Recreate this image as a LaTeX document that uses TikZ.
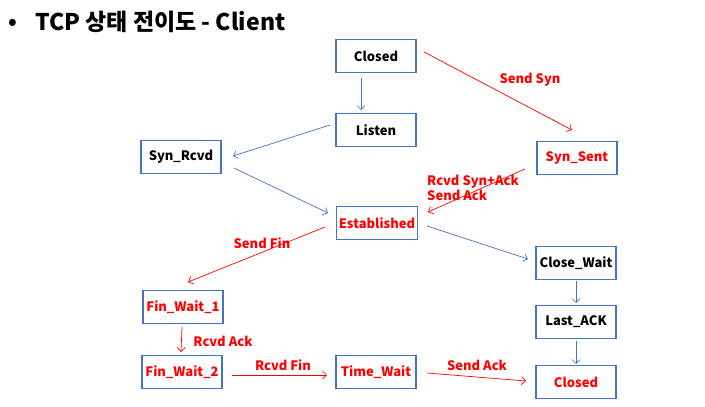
\documentclass[tikz,border=0pt]{standalone}
\usepackage{fontspec}
\setmainfont{Noto Sans CJK KR}
\usetikzlibrary{arrows.meta}
\definecolor{boxblue}{HTML}{4472C4}

\begin{document}
\begin{tikzpicture}[x=1pt,y=-1pt]
\tikzstyle{every node}=[font=\bfseries\fontsize{13}{15}\selectfont]
\tikzstyle{state}=[draw=boxblue,line width=1.4pt,minimum width=80pt,minimum height=33pt,inner sep=2pt]
\tikzstyle{redstate}=[state,text=red]
\tikzstyle{blueline}=[draw=boxblue,line width=0.7pt,-{Straight Barb[length=4pt,width=8pt]}]
\tikzstyle{redline}=[draw=red,line width=0.7pt,-{Straight Barb[length=4pt,width=8pt]}]
\tikzstyle{lbl}=[text=red,inner sep=1pt]
\useasboundingbox (0,0) rectangle (705,407);

% title
\node (bullet) at (13,24) {\fontsize{22}{24}\selectfont •};
\node[anchor=west,inner sep=0pt] (title) at (35,22) {\fontsize{23}{26}\selectfont TCP 상태 전이도 - Client};

% states
\node[state] (closed) at (376,56) {Closed};
\node[state] (listen) at (376,130) {Listen};
\node[state] (synrcvd) at (181,157) {Syn\_Rcvd};
\node[redstate] (synsent) at (577,158) {Syn\_Sent};
\node[redstate] (established) at (377,223) {Established};
\node[state] (closewait) at (576,263) {Close\_Wait};
\node[state] (lastack) at (576,322) {Last\_ACK};
\node[redstate] (closed2) at (576,382) {Closed};
\node[redstate] (finwait1) at (183,307) {Fin\_Wait\_1};
\node[redstate] (finwait2) at (182,372) {Fin\_Wait\_2};
\node[redstate] (timewait) at (376,372) {Time\_Wait};

% transitions
\draw[blueline] ([shift={(-15,22)}]closed.center) -- ([shift={(-15,-20)}]listen.center);
\draw[redline] ([shift={(48,-4)}]closed.center) -- ([shift={(-5,-28)}]synsent.center);
\draw[blueline] ([shift={(-46,-5)}]listen.center) -- ([shift={(52,-1)}]synrcvd.center);
\draw[blueline] ([shift={(53,11)}]synrcvd.center) -- ([shift={(-49,-10)}]established.center);
\draw[redline] ([shift={(-52,11)}]synsent.center) -- ([shift={(51,-11)}]established.center);
\draw[redline] ([shift={(-52,4)}]established.center) -- ([shift={(5,-25)}]finwait1.center);
\draw[blueline] ([shift={(50,3)}]established.center) -- ([shift={(-48,-4)}]closewait.center);
\draw[blueline] ([shift={(0,18)}]closewait.center) -- ([shift={(0,-19)}]lastack.center);
\draw[blueline] ([shift={(0,19)}]lastack.center) -- ([shift={(0,-18)}]closed2.center);
\draw[redline] ([shift={(-1,20)}]finwait1.center) -- ([shift={(-1,-20)}]finwait2.center);
\draw[redline] ([shift={(50,3)}]finwait2.center) -- ([shift={(-49,3)}]timewait.center);
\draw[redline] ([shift={(51,1)}]timewait.center) -- ([shift={(-50,-1)}]closed2.center);

% labels
\node[lbl] (l1) at (530,80) {Send Syn};
\node[lbl,anchor=west,align=left] (l2) at (426,188) {Rcvd Syn+Ack\\Send Ack};
\node[lbl] (l3) at (262,243) {Send Fin};
\node[lbl] (l4) at (223,341) {Rcvd Ack};
\node[lbl] (l5) at (283,365) {Rcvd Fin};
\node[lbl] (l6) at (477,365) {Send Ack};
\end{tikzpicture}
\end{document}
